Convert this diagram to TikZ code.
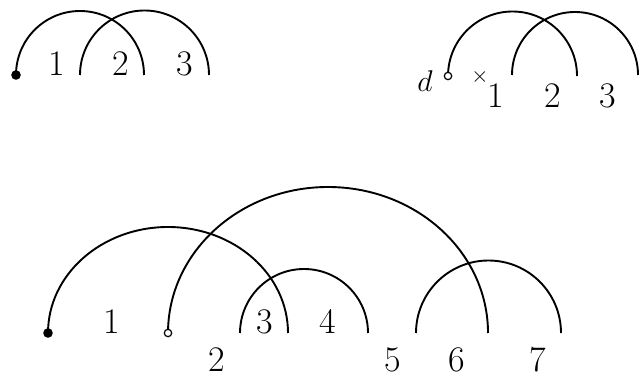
\documentclass[tikz,border=0pt]{standalone}
\usepackage{fix-cm}
\usepackage{tikz}
\tikzset{
  arcline/.style={line width=0.95pt},
  lbl/.style={anchor=base,inner sep=0pt,font=\fontsize{18}{20}\selectfont},
  opendot/.style={line width=0.6pt,fill=white},
}

\begin{document}
\begin{tikzpicture}[x=0.5pt,y=0.5pt]
  \useasboundingbox (0,0) rectangle (640,375);
  % top left
  \coordinate (tl0) at (16,300);
  \coordinate (tl1) at (80,300);
  \draw[arcline] (tl0) arc[start angle=180,end angle=0,radius=64];
  \draw[arcline] (tl1) arc[start angle=180,end angle=0,radius=64.5];
  \fill (tl0) circle (4.8);
  \node[lbl] (tla) at (57,299) {1};
  \node[lbl] (tlb) at (121,299) {2};
  \node[lbl] (tlc) at (185,299) {3};
  % top right
  \coordinate (tr0) at (448,299);
  \coordinate (tr1) at (512,300);
  \draw[arcline] (tr0) arc[start angle=180,end angle=0,radius=64.5];
  \draw[arcline] (tr1) arc[start angle=180,end angle=0,radius=63];
  \draw[opendot] (tr0) circle (3.7);
  \node[anchor=base,inner sep=0pt,font=\fontsize{15}{17}\selectfont] (trd) at (425,283) {$d$};
  \node[inner sep=0pt,font=\fontsize{11}{11}\selectfont] (trx) at (480,298) {$\mathbf{\times}$};
  \node[lbl] (tra) at (496,267) {1};
  \node[lbl] (trb) at (553,267) {2};
  \node[lbl] (trc) at (608,267) {3};
  % bottom
  \coordinate (b0) at (48,42);
  \coordinate (b1) at (168,42);
  \coordinate (b2) at (240,42);
  \coordinate (b3) at (416,42);
  \draw[arcline] (b0) arc[start angle=180,end angle=0,x radius=120,y radius=106];
  \draw[arcline] (b1) arc[start angle=180,end angle=0,x radius=160,y radius=146];
  \draw[arcline] (b2) arc[start angle=180,end angle=0,radius=64];
  \draw[arcline] (b3) arc[start angle=180,end angle=0,radius=72.5];
  \fill (b0) circle (4.8);
  \draw[opendot] (b1) circle (3.7);
  \node[lbl] (ba) at (112,42) {1};
  \node[lbl] (bb) at (217,4) {2};
  \node[lbl] (bc) at (265,42) {3};
  \node[lbl] (bd) at (328,42) {4};
  \node[lbl] (be) at (393,4) {5};
  \node[lbl] (bf) at (457,4) {6};
  \node[lbl] (bg) at (538,4) {7};
\end{tikzpicture}
\end{document}
